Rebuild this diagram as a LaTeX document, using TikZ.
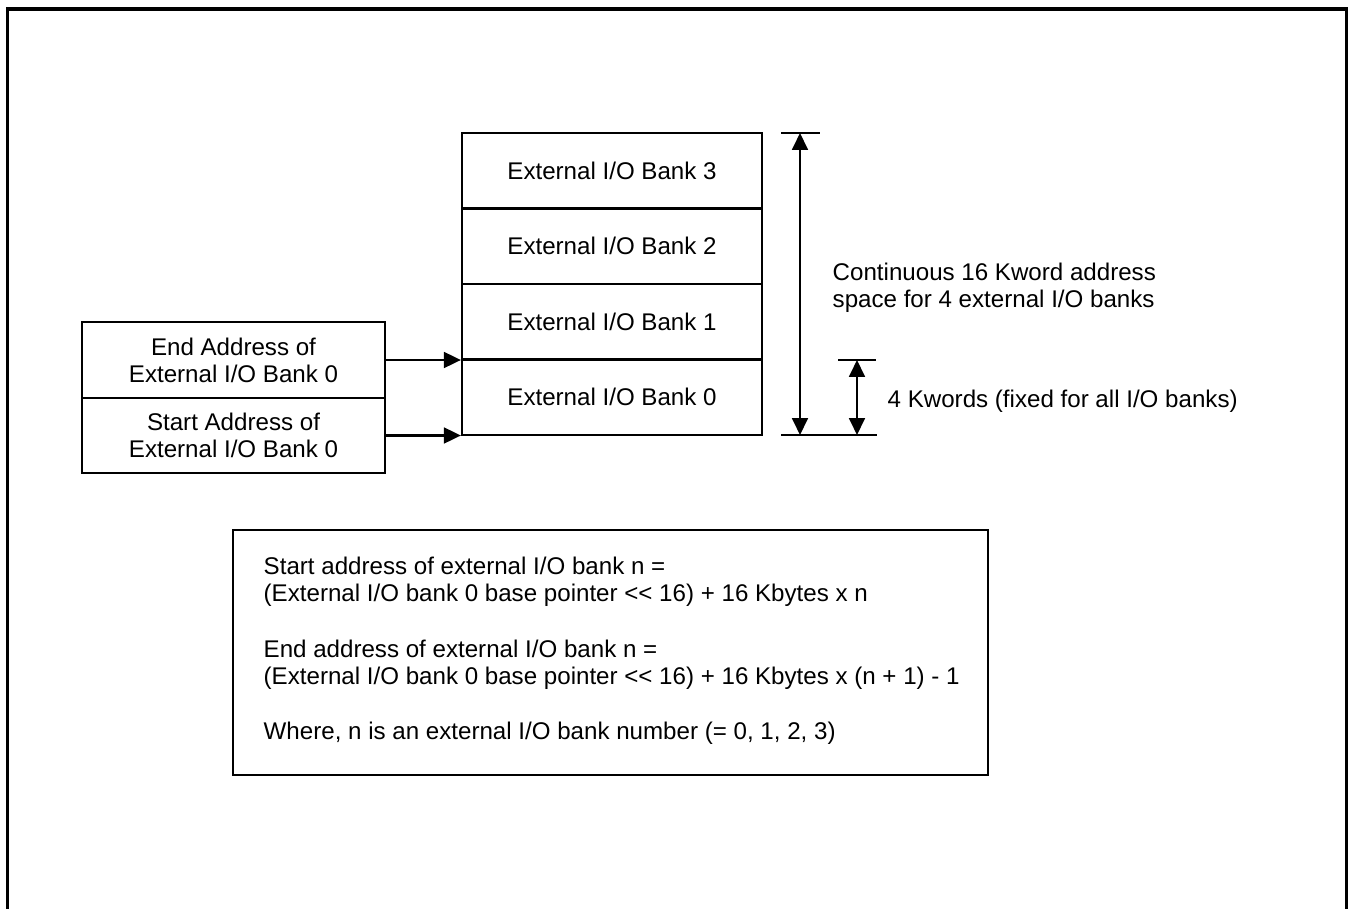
\documentclass[tikz,border=0pt]{standalone}
\usepackage{fontspec}
\setmainfont{Liberation Sans}
\usetikzlibrary{arrows.meta}

\tikzset{
  boxline/.style={line width=0.6pt},
  bankbox/.style={boxline, draw, minimum width=3cm, minimum height=0.755cm, inner sep=0pt},
  addrbox/.style={boxline, draw, minimum width=3.03cm, minimum height=0.757cm, inner sep=0pt, align=center},
  arrowline/.style={boxline, -{Triangle[length=4.8pt, width=4.5pt]}},
  dimline/.style={boxline, {Triangle[length=4.8pt, width=4.5pt]}-{Triangle[length=4.8pt, width=4.5pt]}},
  plaintext/.style={inner sep=0pt, align=left}
}

\begin{document}
\begin{tikzpicture}[x=0.01cm, y=-0.01cm, font=\fontsize{6.86pt}{7.7pt}\selectfont]

      \useasboundingbox (0,0) rectangle (1348,909);

      % 外枠（下辺なし）
      \draw[line width=0.9pt] (7.5,909) -- (7.5,9) -- (1346.5,9) -- (1346.5,909);

      % I/O バンクの積み重ね
      \foreach \i in {0,...,3}
        \node[bankbox] (bank\i) at (612,397.25-75.5*\i) {External I/O Bank \i};

      % 開始・終了アドレス
      \node[addrbox] (endaddr) at (233.5,360) {End Address of\\External I/O Bank 0};
      \node[addrbox] (startaddr) at (233.5,435.5) {Start Address of\\External I/O Bank 0};
      \draw[arrowline] (endaddr.east) -- (endaddr.east -| bank0.west);
      \draw[arrowline] (startaddr.east) -- (startaddr.east -| bank0.west);

      % 寸法線
      \coordinate (spantop) at (800,133);
      \coordinate (spanbot) at (800,435);
      \coordinate (banktop) at (857,360);
      \coordinate (bankbot) at (857,435);
      \draw[boxline] (781,133) -- (820,133);
      \draw[boxline] (781,435) -- (877,435);
      \draw[boxline] (838,360) -- (876,360);
      \draw[dimline] (spanbot) -- (spantop);
      \draw[dimline] (bankbot) -- (banktop);
      \node[plaintext, anchor=west] (spantext) at (832,288) {Continuous 16 Kword address\\space for 4 external I/O banks};
      \node[plaintext, anchor=west] (banktext) at (887,401) {4 Kwords (fixed for all I/O banks)};

      % 計算式の枠
      \node[boxline, draw, minimum width=7.55cm, minimum height=2.45cm] (formulabox) at (610.5,652.5) {};
      \node[plaintext, anchor=north west] (startform) at (263,556) {Start address of external I/O bank n =\\(External I/O bank 0 base pointer <{}< 16) + 16 Kbytes x n};
      \node[plaintext, anchor=north west] (endform) at (263,639) {End address of external I/O bank n =\\(External I/O bank 0 base pointer <{}< 16) + 16 Kbytes x (n + 1) - 1};
      \node[plaintext, anchor=north west] (wherenote) at (263,721.5) {Where, n is an external I/O bank number (= 0, 1, 2, 3)};

    \end{tikzpicture}
\end{document}
